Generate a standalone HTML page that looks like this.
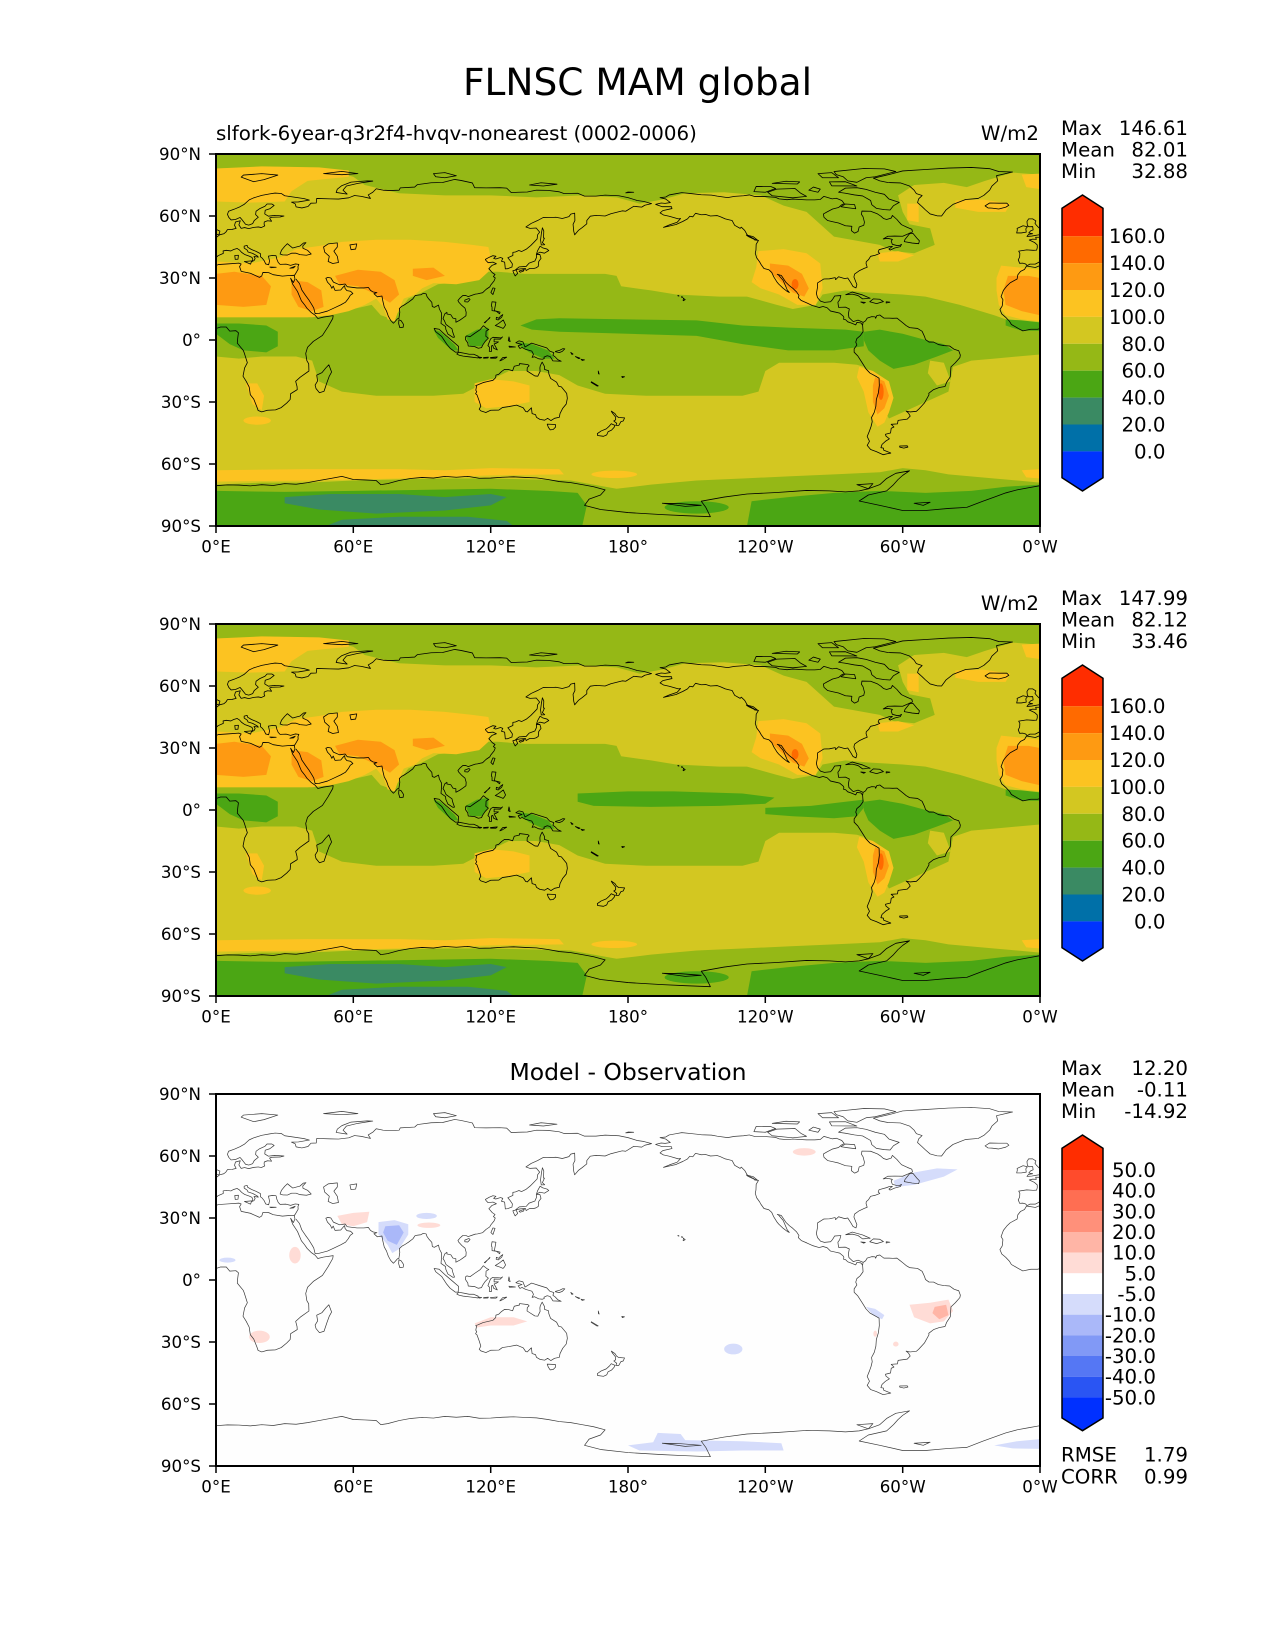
<!DOCTYPE html>
<html><head><meta charset="utf-8">
<style>
html,body{margin:0;padding:0;background:#fff}
svg{display:block}
text{font-family:"DejaVu Sans","Liberation Sans",sans-serif;fill:#000}
.cs{fill:none;vector-effect:non-scaling-stroke;stroke-linejoin:round}
</style></head>
<body>
<svg width="1275" height="1650" viewBox="0 0 1275 1650" xmlns="http://www.w3.org/2000/svg">
<defs>
<g id="coast">
<polygon class="cs" points="-5.9,35.8 -2,35.1 1,36.5 5,36.8 10,37.2 11,36.8 10.3,35.5 11,33.2 15,32.3 19,30.3 20,31 20.5,32.7 23,32.6 25,31.6 29,30.9 32,31.2 34.2,31.3 34.5,29.5 33.8,27.8 32.6,29.9 33.5,27 35.6,23.5 37.3,19 38.6,17.2 39.8,15.3 41.7,13.2 43.3,12 44.5,10.4 47,11.1 51.2,11.8 51,10.4 49,6.5 46.5,2.2 42.5,-0.7 40,-3.5 39.2,-6.5 39.7,-10 40.5,-11.5 40.6,-15 36.8,-18 34.8,-20 35.4,-22.5 35.5,-24 32.6,-26 32.4,-28.8 30.9,-30.5 28.5,-32.7 26,-33.8 22.5,-34 20,-34.8 18.4,-34.1 17.9,-32.5 16.5,-28.6 15,-26.5 14.5,-22.8 13.2,-20 11.8,-17.5 12.5,-13.5 13.7,-11 12.3,-6.1 11.9,-5 9.3,-1.5 9.5,1 9.8,3.5 8.7,4.5 6,4.3 4.5,6.3 2,6.3 -1,5.2 -4,5.2 -7.5,4.4 -9.5,5.6 -12.5,7.5 -13.3,9 -15,11 -16.7,12.6 -17.5,14.7 -16.5,16.5 -16.2,19.5 -17,21 -16,24 -14.5,26.1 -13,27.7 -10,29.5 -9.7,31.5 -8.5,33.2 -6.8,34.1"/>
<polygon class="cs" points="49.3,-12 50.5,-15.5 49.5,-17.5 48.5,-20.5 47.2,-24.8 45.2,-25.5 43.7,-23.5 43.3,-21.8 44.4,-19.8 44,-17 46.3,-15.8 48,-13.5"/>
<polyline class="cs" points="-5.6,36 -4.4,36.7 -2.1,36.7 -0.5,37.6 0.2,38.8 -0.3,39.5 0.9,40.8 3.2,41.9 3.1,43.1 4.5,43.4 6.5,43.1 7.7,43.8 9.2,44.3 10.3,43.5 11.2,42.4 12.5,41.4 14.5,40.6 15.7,40 16.1,38.9 15.7,38 16.6,38.4 17.1,39.4 16.6,40.4 18.5,40.1 18,40.7 16,41.9 14,42.6 13.6,43.5 12.3,44.5 12.3,45.4 13.6,45.8 13.8,44.9 15.5,43.8 17.5,42.9 19.4,41.8 19.4,40.3 20.2,39.6 21.1,38.3 21.7,36.8 23,36.4 23.4,38.2 22.9,40.6 24.5,40.9 26.2,40.8 26.4,40.1 26.6,39 27.2,37.5 28,36.6 30.6,36.7 32.6,36.1 34.6,36.8 36.2,36.6 35.8,35.5 35.9,34.3 35.3,33.1 34.5,31.6 34.2,31.3"/>
<polygon class="cs" points="28,41.6 28.6,43.4 30,45.3 31.2,46.6 32.5,45.4 33.5,44.5 35.5,45.1 36.6,45.4 38.2,46.9 39.3,47.1 37.9,45.5 38,44.4 40,43.4 41.6,41.6 39.5,41 36.7,41.3 35,42 33,42 31.2,41.1 29.1,41.2"/>
<polygon class="cs" points="47,45 49,46.5 53,47 53,45 51.5,43 53,40.5 53.5,37.5 51,37 49,38 49.5,40.5 47.5,42.5"/>
<polygon class="cs" points="58.5,46 61.5,46.5 61,44 59,43.7"/>
<polyline class="cs" points="34.9,29.5 36.5,27.3 37.5,24.2 39.1,21.6 40.5,19.5 41.8,17.2 42.7,15.5 43.3,12.8 45,12.9 48.7,14 52,15.7 54.5,17 56.6,18.3 57.8,20 58.7,21.7 59.8,22.5 58.8,23.6 57.2,23.9 56.4,24.9 56.2,26.3 55.5,25.5 54.5,24.2 52,24 51.5,25.3 51.2,26.1 50.6,25 50,26.5 48.7,28 48,29.9 48.9,30.3 50.2,30 51.3,28 54,26.7 56.4,27.1 57.3,25.8 61.6,25.2 64.5,25.2 66.6,25.4 67.5,24 68.5,23.3 70.3,22.9 69,22.4 70.5,20.9 72.5,21.3 72.8,19.3 73.5,16 74.5,14 75.3,11.5 76.3,9.5 77.5,8.1 78.2,8.9 79.3,10.3 79.9,10.4 80.3,13.4 80.1,15.2 81.3,16.4 82.3,17 84.1,18.3 86,19.9 87,21.5 88.2,21.7 89.5,21.9 90.6,22.6 91.8,22.3 92.2,21 93,19.8 94.3,18.2 94.5,16.2 95.4,15.8 97.2,16.9 97.6,15 98.5,13.1 98.5,10.5 98.3,8 100.3,6.5 100.4,5.2 101.3,2.9 103.5,1.3 104.2,1.4 103.4,3.9 103.1,5.4 102.1,6.2 100.5,7.5 99.8,9.3 99.2,10.4 99.6,11.6 100,12.7 100.9,13.4 100.9,12.6 102.6,12.2 103.5,10.6 104.8,10.3 104.8,8.6 106.4,9.5 107.7,10.5 109.2,11.7 109.3,13.4 108.8,15.4 107.4,16.7 106,18.4 105.7,19.1 106.6,20.3 107.8,21.5 109.2,21.5 110.2,21 111.7,21.6 113.3,22.2 114.2,22.3 116.5,22.9 118,24.5 119.6,25.7 120.1,26.7 121.5,28.6 122,30 121.2,30.7 121.9,31.7 120.7,32.6 119.2,34.5 120.6,36.1 122.5,36.9 121,37.7 118.9,37.4 118,38.4 117.7,39 119.3,40 121,40.8 122.3,40.5 121.3,39.5 122.2,39.2 124.3,39.9 125.3,39.5 124.7,38.1 126.1,37.7 126.4,34.4 127.4,34.5 129.3,35.3 129.5,36.8 128.4,38.6 127.5,39.8 129.7,40.9 129.7,42.4 130.8,42.6 132.3,43.3 133.5,42.8 135.5,43.9 137.5,45.7 139,47.4 140.3,48.9 140.5,50.9 141.4,52.2 139.9,54.2 137.2,54 135.4,54.7 137.7,56.4 140.5,57.8 143,59.3 146,59.2 148.5,59.4 151.3,58.8 154.2,59.7 155,60.9 156.7,61.4 156.8,57.8 156,56 156.3,52.6 156.7,50.9 158.3,53 160,54.4 162,56.2 162,57.8 163.5,59.9 166,60.3 170,60 172.5,61.1 177.5,62.5 179,62.3 182.5,64.7 186,64.3 187.3,65.2 190.3,66 187,67 184,67.5 180,68.9 176,69.8 170,70.1 166,69.6 161,69.6 158,71 152,70.9 150,71.7 145,72.4 140,72.5 136,71.6 132,71.5 129,71.3 127,73.5 124,73.7 118,73.6 113,73.7 112,76 107,77.2 104.3,77.7 99,76.2 94,76.1 88,75.2 86.8,74 80.5,73.6 80,72.5 76,72.3 73,72.5 70,73.2 68.5,71.5 66.5,70.2 67.5,68.5 63.5,69.5 60.5,69.9 58,68.8 53.5,68.2 50,68.3 44,68.5 43.8,66.3 41.5,66.2 40.2,64.6 37.5,63.9 35,64.4 34.6,65.9 33,66.7 36,66.8 40.8,67.7 38.5,68.4 33,69.3 30,69.8 28.5,70.9 25.8,71.1 23.5,70.7 20,70 16.5,68.8 14.5,67.8 12.4,65.7 10.5,64.5 8,63.3 5.5,62.3 5,60.8 5.6,59.3 6.6,58.1 8.5,58.3 10.5,59.3 11.3,58.3 12,57.3 12.9,56 14.3,55.6 16,56.3 16.7,57.8 18.5,59.4 17.3,60.7 17.5,62.3 19,63.5 21.4,64.7 22.3,65.8 24.4,65.8 25.4,65.1 23.5,63.5 21.5,62.8 21.3,61 22.9,59.9 25.5,60.3 29.7,60 28,59.5 24.3,59.4 23.4,59 24.3,57.5 22.5,57.7 21.1,57.1 21,56.1 21.3,55.2 19.8,54.4 18.5,54.7 16.5,54.5 14.3,53.9 12.5,54.4 11,54 10,55.7 10.6,57.7 8.5,57.1 8.1,55.5 8.8,54 7,53.5 5,53.4 4.3,52.2 3.4,51.4 1.6,50.9 0.2,49.7 -1.9,49.7 -1.6,48.7 -3.2,48.8 -4.7,48.4 -2.4,47.2 -1.2,46 -1.2,44.6 -1.5,43.5 -3,43.4 -5.8,43.6 -9.3,43 -8.8,41.9 -8.9,40.1 -9.5,38.8 -8.9,37.1 -7.5,37.2 -6.3,36.8 -5.6,36"/>
<polygon class="cs" points="-5.7,50.1 -3.6,50.3 -1,50.8 1.4,51.2 1.7,52.7 0.3,53.4 -1.6,55.6 -2.2,56.5 -1.8,57.6 -3.2,58.6 -5,58.6 -5.7,57.3 -5.5,55.4 -4.8,54.8 -3.2,54.9 -3,53.3 -4.1,52.8 -4.9,51.8 -3.2,51.4 -5,51.1"/>
<polygon class="cs" points="-6,52.2 -6.2,53.8 -5.5,54.8 -7.4,55.3 -10,54 -9.9,53.2 -10.2,51.8 -8.2,51.8"/>
<polygon class="cs" points="-24,64.9 -22,66.3 -18,66.2 -14.5,66.2 -13.6,65.2 -14.9,64.3 -18,63.4 -21,63.8 -22.7,63.9"/>
<polygon class="cs" points="11,78.8 16.5,76.6 21,77.6 27,79.8 20,80.5 12,79.8"/>
<polygon class="cs" points="52.5,71.4 57.3,70.6 55.5,72.5 57,74.5 62,75.8 68.5,76.9 66,77 59,76.4 55,74.7 53,73"/>
<polygon class="cs" points="47,80.5 55,80 62,80.5 55,81.6"/>
<polygon class="cs" points="96,79 100,78.5 105,79.5 100,81 95,80.5"/>
<polygon class="cs" points="137,75 143,74.5 149,75.4 142,76.1"/>
<polygon class="cs" points="179,71.2 182.5,71.5 180,71.6"/>
<polygon class="cs" points="8.4,39 9.6,39.1 9.8,41 8.2,40.9"/>
<polygon class="cs" points="12.4,38 15.6,38.3 15.1,36.7"/>
<polygon class="cs" points="23.5,35.3 26.3,35.2 24,35"/>
<polygon class="cs" points="32.3,34.7 34.6,35.7 33.9,34.9"/>
<polygon class="cs" points="79.9,9.8 80.9,9.3 81.9,7.6 81.8,6.2 80.3,6 79.8,7.9"/>
<polygon class="cs" points="120.1,23 121,25.2 121.9,25 121,22"/>
<polygon class="cs" points="108.7,19.3 110.5,20.1 111,19.6 110,18.4 108.7,18.5"/>
<polygon class="cs" points="130.9,34 132.5,35.4 135.5,35.6 136.8,37.2 139.3,38.2 140,39.9 140,41.3 141.5,41.4 142,39.5 141,38 140.9,36.9 140.8,35.6 139.8,34.9 138.8,34.6 137,34.6 135.5,33.6 135.2,34.6 133,34.4"/>
<polygon class="cs" points="129.7,33.5 131.1,33.9 131.8,32.2 130.7,31 130.1,32.3"/>
<polygon class="cs" points="132.4,33.3 134.7,34.2 134.3,33.3 132.9,32.8"/>
<polygon class="cs" points="140.2,42.2 140.5,43.2 141.6,45.4 142.7,44.6 144.6,44 145.4,43.3 143.5,42 141.5,42.5 140,41.5"/>
<polygon class="cs" points="142.1,46 141.8,48.5 142.2,51.9 142.6,54.3 143.2,52.8 143.1,49.3 143.5,49.3 142.6,47.1 143.6,46.1"/>
<polygon class="cs" points="120.6,18.5 122.3,18.3 122,16.5 121.6,14.2 124.1,13.5 123.9,12.7 122.5,13.9 120.6,14.2 120.6,16 120.3,16.5"/>
<polygon class="cs" points="122,7 123.5,8 125.5,9.7 126.5,7.3 126,6.3 125.4,5.6 124.2,6.2"/>
<polygon class="cs" points="122.5,11 123.5,10.5 124.3,11.5 125.3,12.3 124.8,11 123.3,9.7 122.4,10"/>
<polygon class="cs" points="117.2,8.4 119.5,10.5 119.7,11 117.5,8.3"/>
<polygon class="cs" points="95.3,5.6 97.5,5.2 100.4,2.2 103.8,-1 106,-3.1 105.8,-5.8 104.6,-5.9 102.3,-4 100.8,-2 98.6,1.7 96,4"/>
<polygon class="cs" points="105.2,-6.8 106,-5.9 108.5,-6.4 110.6,-6.9 112.6,-6.9 114.5,-7.8 114.6,-8.7 111,-8.2 108,-7.8 106.3,-7.4"/>
<polygon class="cs" points="109,1.5 109.6,2 111,1.6 113,3.2 115.4,5 116.8,6.9 118.5,5.4 119.2,5.1 118,4.3 117.9,1.8 119,0.9 117.6,-0.7 116.5,-2.5 116,-3.7 114.6,-4 113,-3.2 110.2,-2.9 110,-1.4 109,0.2"/>
<polygon class="cs" points="119.4,-5.5 119.5,-3.5 118.8,-2.7 119.8,0.1 120.1,0.7 121,1.3 124.5,1 125.2,1.5 124.2,0.4 121.5,0.5 121.5,-0.9 123.4,-0.9 122.4,-1.6 121.5,-1.9 122.9,-4.8 121.3,-4 120.9,-2.6 120.3,-2.9 120.4,-5.5"/>
<polygon class="cs" points="131,-1.3 132.4,-0.4 134.1,-0.9 135,-3.4 137.9,-1.5 141,-2.6 144.5,-3.8 145.8,-5.4 147.6,-6.1 147.2,-7.4 148.1,-8.1 149.3,-9.5 150.8,-10.3 147.2,-10.1 146,-8 144.7,-7.6 143.3,-8.3 143.4,-9 142.6,-9.3 141,-9.1 139.1,-8.1 138.1,-8.4 138.7,-6.9 138,-5.4 135.2,-4.5 133.7,-3.6 132.8,-4.1 132,-2.8 133.7,-2.2 131.8,-1.6"/>
<polygon class="cs" points="124,-10.1 125.3,-8.5 127,-8.3 125.1,-9.6"/>
<polygon class="cs" points="114.6,-8.2 116.1,-8.5 115.2,-8.8"/>
<polygon class="cs" points="116.9,-8.5 119,-8.3 118.8,-8.7 116.9,-8.8"/>
<polygon class="cs" points="119.9,-8.5 122.9,-8.2 122.3,-8.8 120,-8.8"/>
<polygon class="cs" points="128,1.5 128.5,-0.8 127.7,-0.3"/>
<polygon class="cs" points="128,-3 130.8,-3.4 128.2,-3.5"/>
<polygon class="cs" points="148.3,-5.5 150.1,-5 151.5,-4.2 152.4,-4.3 151.3,-5.5 150,-6.1 148.3,-5.7"/>
<polygon class="cs" points="155,-6 156,-6.8 155.5,-7"/>
<polygon class="cs" points="157,-8 159,-8.8 158.5,-9"/>
<polygon class="cs" points="159.5,-9.3 161,-9.6 160,-9.9"/>
<polygon class="cs" points="164,-20.2 167,-22.2 166.5,-22.3 163.9,-20.5"/>
<polygon class="cs" points="167,-15 167.4,-16.5 167.1,-16.3"/>
<polygon class="cs" points="177.3,-17.6 178.5,-17.8 177.5,-18.2"/>
<polygon class="cs" points="113.5,-22 114.2,-21.8 116.7,-20.6 121,-19.5 122.2,-18.2 122.3,-17 123.5,-16.6 124.8,-15.2 126.1,-14.2 127.8,-14.3 129.6,-14.9 130.3,-12.7 132.6,-12.1 132.6,-11.4 136.3,-11.9 136.8,-12.5 136,-13.3 135.9,-15 137.2,-15.9 139.3,-17.4 140.6,-17.5 141.6,-15.2 141.5,-13.5 141.7,-12.4 142.5,-10.7 143.5,-12.8 143.5,-14.2 145.3,-14.9 145.4,-16.3 146.2,-18.6 148.8,-20.4 149.7,-22.4 150.9,-22.7 153.2,-25.8 153.5,-28.2 153,-31 151.5,-33 150.3,-35.6 150,-37.4 147.9,-37.9 146.3,-39 144.9,-37.9 143.6,-38.8 141.5,-38.4 140,-37.4 139.6,-36.1 138.1,-35.6 137.8,-32.8 136,-34.8 135.3,-34.6 134.2,-32.8 131.3,-31.5 128,-32.2 125.1,-32.7 123.6,-33.9 120,-34 117.9,-35.1 115.7,-34.3 115,-33.5 115.7,-32 115,-29.5 114,-26.5 113.4,-26 113.9,-25 113.5,-24.3 113.8,-22.5"/>
<polygon class="cs" points="144.7,-40.7 148.3,-40.9 148.3,-42.2 147.3,-43.3 146,-43.5 145.2,-42.2"/>
<polygon class="cs" points="172.7,-34.4 174.3,-35.6 175,-36.8 175.9,-37.5 178.5,-37.7 177.9,-39.2 176.9,-39.5 176,-41.3 174.7,-41.3 175.1,-40.3 173.8,-39.2 174.6,-38.6 174.6,-37.3 173.1,-35.2"/>
<polygon class="cs" points="172.7,-40.5 174.3,-41.3 173.9,-42.3 172.8,-43.6 171.3,-44.4 170.7,-45.9 169.3,-46.6 166.7,-46.2 166.6,-45.3 168.3,-44 170.5,-43 171.8,-41.7"/>
<polyline class="cs" points="-168,65.6 -165,64.5 -161,64.5 -160.8,63.6 -164.8,62.6 -166,61.5 -164.5,60.5 -162,59.9 -158,58.6 -157,58.8 -158.5,57 -161.9,55.7 -164.5,54.5 -162.5,55 -159,55.9 -156,57.4 -154,58.6 -153,59.9 -151.7,59.6 -150.5,61.3 -148,60.6 -146,60.7 -144,60 -141,60.2 -139.5,59.6 -137.5,58.6 -136,58.2 -134.5,57.8 -133.4,55.5 -131,54 -130.5,54.6 -129,53 -128,51 -127.5,50.5 -125,49 -124.7,48.4 -123,48.2 -124,46.3 -124.1,43.5 -124.4,42 -123.8,39.8 -122.5,37.8 -121.9,36.6 -120.6,34.6 -118.5,34 -117.2,32.7 -116.3,30.5 -115,28.2 -114.2,27.1 -112.2,25 -110.3,23.4 -109.5,23 -110.4,24.2 -112.2,28.8 -114.3,31.5 -114.8,31.8 -113,31.2 -111,27.9 -109.4,26.2 -108,25 -106.3,23.2 -105.3,21.5 -105.6,20.5 -104.3,19.1 -101.8,17.9 -99.5,16.7 -96.5,15.7 -94.8,16.2 -93,15.6 -91.5,14 -89,13.4 -87.5,13 -86,11.6 -85.7,11 -85.8,10 -84.9,9.8 -84,8.8 -82.5,8.2 -80.5,7.3 -80,8.5 -78.3,8.3 -77.5,7.2"/>
<polyline class="cs" points="-77.4,8.6 -79.5,9.6 -81.6,8.9 -83.5,10.9 -83.7,12.8 -83.3,15 -85,15.9 -88,15.8 -88.3,18.3 -87.5,19.5 -87,21.5 -89.7,21.3 -90.7,19.5 -91.5,18.5 -94.2,18.2 -95.9,18.8 -97.2,20.5 -97.7,22.5 -97.2,25.5 -97.2,27.6 -94.5,29.5 -92,29.6 -89.5,30.2 -89.3,29.2 -88,30.6 -85.3,29.7 -84,30 -82.7,27.8 -81.7,25.9 -80.4,25.2 -80,26.8 -80.6,28.5 -81.3,30.5 -81,31.9 -79,33.5 -76.7,34.7 -75.5,35.2 -76,37 -75.9,37.9 -74.9,38.9 -74,40.5 -72,41 -70.6,41.6 -70,41.9 -70.7,42.6 -70.3,43.7 -67,44.7 -65.9,45.2 -64.5,45.3 -66,44 -65.5,43.5 -63.5,44.5 -61,45.2 -60.5,46.3 -61.5,45.7 -62.5,45.7 -64.5,46.3 -65,47.8 -64.5,48.7 -66.5,49.2 -68.5,48.9 -66.5,50.2 -63.5,50.3 -60,50.2 -57.5,51.4 -55.7,52.3 -56,53.6 -58,54.5 -60.5,55.8 -61.5,57 -62.5,58.3 -64.5,60.3 -65,59 -67,58.3 -68.4,58.8 -69.5,59.9 -71,61 -74,62.3 -77.8,62.4 -78,60.8 -77.3,59.6 -76.7,57 -77,55.5 -79,54.7 -79.5,52.5 -81,51.7 -82.4,52.9 -82.2,55 -85,55.3 -88,56.6 -90.8,57.3 -92.8,57.8 -94.4,59.4 -94.6,61 -93,62 -90.6,63.4 -88,64.1 -86.8,65.3 -85.5,66 -86.6,67.5 -89,68.6 -90.8,68.3 -94.4,69.5 -96,68 -98.5,67.8 -102,67.8 -108,68.2 -110.5,67.9 -114,68.3 -115.5,69 -120,69.4 -124.5,69.4 -127,70.2 -129.5,69.8 -133.5,69.5 -136.5,68.9 -141,69.6 -143.5,70.1 -148,70.3 -152,70.8 -156.5,71.3 -159,70.8 -162,70.2 -163.5,69.2 -166,68.9 -163.5,68.2 -161.5,66.5 -163.8,66.1 -165.5,66.3 -168,65.6"/>
<polygon class="cs" points="-77.5,7.2 -77.3,4 -78.6,2 -80,0.7 -80.5,-1 -80,-2.4 -81.2,-4.3 -81.2,-5.9 -79.6,-7.7 -77.7,-11 -76,-14 -74.3,-16 -71.3,-17.8 -70.3,-18.5 -70.2,-22 -70.6,-25.5 -71.5,-28.8 -71.7,-32 -72.4,-35 -73.6,-37.5 -73.3,-39.5 -73.8,-41.8 -74.5,-44 -75.5,-46.7 -74.5,-49 -75.5,-51 -74,-53 -71.5,-54 -68.5,-55.5 -66.5,-55 -65.2,-54.7 -68.3,-53.3 -68.4,-52.3 -69.5,-52.1 -69,-50.5 -67.5,-49 -65.8,-47.8 -67.3,-46.5 -67.5,-45.6 -65.3,-45 -65,-42.7 -63.8,-42.1 -65,-40.8 -62.3,-40.6 -62,-38.9 -58,-38.3 -56.7,-36.8 -57.5,-35.3 -58.5,-34.4 -56.8,-34.8 -54,-34.5 -53,-33.5 -50.5,-30.5 -48.5,-26.5 -48.6,-25.8 -46.5,-24 -44,-23 -41.5,-22.5 -40.8,-20.5 -39.2,-17.8 -39,-14.5 -38.9,-13 -37,-11 -35,-8.5 -34.8,-7.3 -35.5,-5.2 -37.5,-4.5 -39.5,-2.9 -42,-2.7 -44.4,-2.2 -46.5,-1 -48.5,-1 -50,0.2 -50.5,1.8 -51.5,4.2 -53.5,5.6 -57,6 -58.5,7 -60,8.4 -61.5,9.7 -62.5,10.6 -64.3,10.5 -66,10.6 -68.2,10.6 -70,12.1 -71.3,11.8 -71.8,10.5 -72,11.2 -73.5,11.3 -75.5,10.6 -76.2,9.3 -77.3,8.5"/>
<polygon class="cs" points="-72.8,78.3 -65,80.3 -60,81.8 -50,82.5 -40,83.2 -30,83.5 -22,82.9 -18,81.5 -12,81.3 -19,79.5 -18.5,77 -21,74.5 -22,72.5 -24.5,70 -27,68.5 -32.5,68 -38,65.6 -41,63 -43,60 -45,60.1 -48,61 -50,62.9 -51.5,64.5 -53.5,66.5 -53,68.3 -51.5,69.9 -54,70.8 -55,72.5 -57,74.5 -61,76 -66.5,76.2 -70,77"/>
<polygon class="cs" points="-61.5,66.6 -64,65 -65.5,62.9 -68,63.1 -71.5,63.7 -73.5,65.5 -74,67.5 -77.5,69.7 -81,70.2 -85,71 -88,71.5 -85,73.5 -80,73.7 -76,72.9 -72,71.5 -68,70.5 -66,68.2"/>
<polygon class="cs" points="-102,69.5 -108,68.8 -117,69.8 -119,71.5 -115,73 -107,73.3 -104.5,71"/>
<polygon class="cs" points="-120,71.5 -125,71.8 -124,74.3 -117.5,74.2 -115.5,73.3"/>
<polygon class="cs" points="-80,76.3 -76,78.5 -72,79 -63,81.5 -68,82.8 -77,83 -90,81.5 -89,80 -86,79 -84,77"/>
<polygon class="cs" points="-80,74.5 -91,74.6 -92,76.5 -85,76.6"/>
<polygon class="cs" points="-106,75.5 -117,75.8 -111,76.8 -105,76.5"/>
<polygon class="cs" points="-97,71.5 -101,72.5 -99,74 -96,73"/>
<polygon class="cs" points="-88,78.5 -95,78.5 -97,80.5 -91,81"/>
<polygon class="cs" points="-84,64 -80.5,63.5 -81,65.5 -85,65.8 -87,64.5"/>
<polygon class="cs" points="-59.3,47.6 -55.8,46.9 -53,46.6 -52.7,48 -53.8,49.3 -55.5,51.6 -57,51.4 -59,48.6"/>
<polygon class="cs" points="-84.9,21.9 -82,23.2 -77.5,21.8 -74.2,20.2 -77.5,19.9 -79.5,21.5 -82,22.2"/>
<polygon class="cs" points="-74.4,18.5 -72.8,19.9 -70,19.7 -68.4,18.6 -71.4,17.6"/>
<polygon class="cs" points="-78.3,18.4 -76.3,18.2 -77,17.8"/>
<polygon class="cs" points="-67.2,18.5 -65.6,18.3 -67.2,17.9"/>
<polygon class="cs" points="-128.3,50.8 -125.3,50 -123.5,48.4 -124.8,48.7 -127.5,50.1"/>
<polygon class="cs" points="-155.8,20.2 -155,19.5 -155.9,19"/>
<polygon class="cs" points="-156.6,21 -156,20.7 -156.5,20.6"/>
<polygon class="cs" points="-158.2,21.6 -157.7,21.3 -158.1,21.3"/>
<polygon class="cs" points="-61.3,-51.3 -58,-51.2 -57.7,-51.8 -59.5,-52.3 -61.3,-51.8"/>
<polyline class="cs" points="0,-70.5 5,-70.1 10,-70.2 15,-70.6 20,-70 25,-70.4 30,-69.5 35,-69.8 40,-69 45,-68 50,-67 55,-66 60,-67.5 65,-67.7 70,-68 72,-70 75,-69.5 80,-68 85,-67 90,-66.5 95,-66.8 100,-66 105,-66.4 110,-66 115,-66.9 120,-66.8 125,-66.4 130,-66.2 135,-66.5 140,-66.7 145,-67.5 150,-68.5 155,-69 160,-70 165,-71 170,-72.5 168,-75 163,-77 161,-80 168,-82 180,-83.5 195,-84.5 205,-85 216,-85.5 214,-81 212,-78 222,-76 232,-74.5 245,-73.8 258,-72.8 268,-73 275,-73.5 281,-73 285,-72 290,-70 293,-67 297,-64.5 303,-63.3 300,-65.5 298,-67.5 296,-70 293,-73 285,-75 281,-77.9 290,-80 300,-82.5 310,-82.5 320,-81.5 328,-81 335,-78 340,-76 345,-74 350,-72.5 355,-71.5 360,-70.5"/>
<polygon class="cs" points="195,-79 205,-80.5 212,-80 203,-79.2"/>
<polygon class="cs" points="280,-70 287,-69.5 285,-72"/>
<polygon class="cs" points="305,-79 312,-78.5 309,-80"/>
</g>

<g id="fieldA">
<rect x="0" y="-90" width="360" height="180" fill="#D3C721"/>
<polygon fill="#95B816" points="0,90 360,90 360,80 348,81 336,77 328,74 318,76 305,75 298,70 300,62 303,56 312,54 314,46 305,42 296,43 290,46 280,48 270,50 264,56 258,62 248,65 238,70 222,71.5 205,71 195,68 185,66 175,69 160,70 140,69 120,70 100,70 80,71 65,75 60,79 50,82 30,83.5 0,83"/>
<polygon fill="#95B816" points="0,11 40,11 50,13 60,15 68,17 72,12 77,10 80,14 84,20 90,23 97,27 105,28 112,30 118,33 123,33 135,32 150,32 170,32 175,31 177,26 190,24 201,22 220,21 232,21 245,17 252,15 262,17 265,22 275,24 285,23 300,22 310,21 325,17 340,12 350,8 360,7 360,-7 350,-8 340,-9 330,-10 322,-13 320,-25 310,-30 300,-35 294,-38 290,-30 286,-20 283,-13 280,-12 270,-11 246,-11 240,-15 237,-25 230,-27 210,-27 188,-27 170,-26 158,-22 150,-17 140,-15 128,-15 115,-22 108,-26 95,-27 70,-27 55,-25 45,-20 42,-10 35,-8 20,-8 10,-9 0,-8"/>
<polygon fill="#D3C721" points="312,-10 318,-11 321,-20 315,-22 311,-16"/>
<polygon fill="#95B816" points="0,-70 20,-69 40,-69 60,-68 80,-67.5 100,-67 120,-67 140,-67.5 155,-68 165,-70 175,-72 190,-70 210,-68 230,-67 250,-66 270,-65 290,-64 300,-62 310,-63 320,-65 340,-67 360,-69 360,-90 0,-90"/>
<polygon fill="#4BA614" points="0,-73 30,-73.5 60,-73 90,-72.5 120,-72 145,-73 158,-74 162,-80 160,-90 0,-90"/>
<polygon fill="#4BA614" points="232,-90 234,-78 250,-76 270,-74 290,-73 310,-74 330,-73 345,-71 360,-70 360,-90"/>
<ellipse fill="#4BA614" cx="210" cy="-81" rx="14" ry="3"/>
<polygon fill="#3A8A63" points="30,-76 50,-74.5 80,-74.5 100,-76 120,-74.5 127,-76 120,-80 100,-82.5 70,-84 45,-82 30,-79"/>
<polygon fill="#3A8A63" points="48,-90 55,-87 80,-85.5 110,-85.5 127,-87.5 130,-90"/>
<polygon fill="#FCC321" points="0,-63 40,-62.5 80,-62.5 100,-63 120,-62 150,-62.5 152,-65 120,-65.5 80,-67 40,-68 0,-68.5"/>
<ellipse fill="#FCC321" cx="174" cy="-65" rx="10" ry="1.8"/>
<polygon fill="#FCC321" points="352,-63 360,-62.5 360,-67 354,-66.5"/>
<polygon fill="#FCC321" points="0,83 20,84 45,83.5 58,82 58,79 40,77 33,72 30,67 15,66.5 0,67"/>
<polygon fill="#FCC321" points="323,67.5 335,68 347,66 345,62 333,62 323,64"/>
<polygon fill="#FCC321" points="352,80 360,80.5 360,73 354,74"/>
<polygon fill="#FCC321" points="302,66 307,66 307,57 302,58"/>
<polygon fill="#FCC321" points="0,38 15,37 28,40 35,44 45,45.5 55,47.5 70,48.5 85,48.5 100,47.5 112,46 119,45 120,40 119,33 115,29 105,27 95,27.5 90,25 87,22 82,20 80,15 78,9 75,10 73,16 70,20 65,17 58,14 50,12 42,11 30,11 15,11 0,11"/>
<polygon fill="#FE9A12" points="0,32 8,33 20,31 24,26 22,17 12,16 0,17"/>
<polygon fill="#FE9A12" points="33,29 40,28 46,24 47,16 42,14 36,16 33,22"/>
<polygon fill="#FE9A12" points="52,31 62,34 72,33 78,29 80,22 76,18 70,22 62,26 54,27"/>
<polygon fill="#FE9A12" points="86,34.5 95,35 100,31 92,29 86,31"/>
<polygon fill="#FCC321" points="237,43 248,44 258,42 264,37 265,25 262,17 254,17 246,22 238,25 234,28 236,35"/>
<polygon fill="#FE9A12" points="242,37 250,36 256,32 259,25 257,21 252,23 246,29 242,33"/>
<ellipse fill="#FF6A00" cx="253" cy="27" rx="1.5" ry="2.5"/>
<polygon fill="#FCC321" points="281,-13 287,-15 294,-20 296,-28 294,-35 292,-40 289,-42 285,-35 283,-25 280,-18"/>
<polygon fill="#FE9A12" points="288,-18 292,-20 294,-27 292,-33 289,-36 287,-30 287,-22"/>
<ellipse fill="#FF6A00" cx="290.5" cy="-25" rx="1.2" ry="4"/>
<polygon fill="#FCC321" points="343,36 352,35 360,34 360,9 352,10 345,12 342,17 341,24 341,30"/>
<polygon fill="#FE9A12" points="346,31 355,31 360,30 360,12 352,14 345,17 344,24"/>
<polygon fill="#4BA614" points="345,10 352,9.5 360,8.5 360,4.5 352,4.5 345,7"/>
<polygon fill="#FCC321" points="113,-21 120,-19 130,-20 137,-22 137,-30 128,-32 118,-33 113,-30"/>
<polygon fill="#FCC321" points="13,-21 18,-21 21,-27 20,-34 16,-31"/>
<ellipse fill="#FCC321" cx="18" cy="-39" rx="6" ry="2"/>
<polygon fill="#FCC321" points="289,42 298,43 305,41 298,38 290,38"/>
<polygon fill="#4BA614" points="0,8 10,8 22,7 27,4 27,-3 22,-6 12,-5 6,-2 0,3"/>
<polygon fill="#4BA614" points="95,5 98,4 104,-2 106,-5 103,-5 97,1"/>
<polygon fill="#4BA614" points="109,2 114,5 119,6 119,1 116,-3 111,-3"/>
<polygon fill="#4BA614" points="132,-1 138,-2 145,-5 148,-9 143,-9 137,-6 133,-3"/>
<polygon fill="#4BA614" points="283,4 290,5 300,3 310,0 318,-2 322,-5 315,-8 305,-12 296,-14 290,-10 285,-5 283,0"/>
</g>
</defs>

<!-- Title -->
<text x="637.5" y="95" font-size="37.5" text-anchor="middle">FLNSC MAM global</text>

<!-- ============ PANEL 1 ============ -->
<text x="216" y="140" font-size="19.8">slfork-6year-q3r2f4-hvqv-nonearest (0002-0006)</text>
<text x="1039" y="140" font-size="19.8" text-anchor="end">W/m2</text>
<text x="1061" y="135" font-size="19.8">Max</text><text x="1188" y="135" font-size="19.8" text-anchor="end">146.61</text>
<text x="1061" y="156.5" font-size="19.8">Mean</text><text x="1188" y="156.5" font-size="19.8" text-anchor="end">82.01</text>
<text x="1061" y="178" font-size="19.8">Min</text><text x="1188" y="178" font-size="19.8" text-anchor="end">32.88</text>

<svg x="216" y="154" width="824" height="372" viewBox="0 -90 360 180" preserveAspectRatio="none">
<g transform="scale(1,-1)">
<use href="#fieldA"/>
<polygon fill="#4BA614" points="133,7 140,10 150,10.5 180,10 210,9.5 230,7 250,6 275,5 283,4 283,-3 270,-5 250,-5 230,-2 210,2 180,3 150,4 138,5"/>
<use href="#coast" stroke="#000" stroke-width="0.8"/>
<use href="#coast" transform="translate(360,0)" stroke="#000" stroke-width="0.8"/>
</g>
</svg>
<rect x="216" y="154" width="824" height="372" fill="none" stroke="#000" stroke-width="2"/>

<!-- ============ PANEL 2 ============ -->
<text x="1039" y="610" font-size="19.8" text-anchor="end">W/m2</text>
<text x="1061" y="605" font-size="19.8">Max</text><text x="1188" y="605" font-size="19.8" text-anchor="end">147.99</text>
<text x="1061" y="626.5" font-size="19.8">Mean</text><text x="1188" y="626.5" font-size="19.8" text-anchor="end">82.12</text>
<text x="1061" y="648" font-size="19.8">Min</text><text x="1188" y="648" font-size="19.8" text-anchor="end">33.46</text>

<svg x="216" y="624" width="824" height="372" viewBox="0 -90 360 180" preserveAspectRatio="none">
<g transform="scale(1,-1)">
<use href="#fieldA"/>
<polygon fill="#4BA614" points="158,8 180,9 200,9 230,8 244,6 240,3 220,2 190,1.5 165,2 158,4"/>
<polygon fill="#4BA614" points="240,1 260,2 275,4 283,5 283,1 280,-3 270,-4 252,-3 240,-2"/>
<use href="#coast" stroke="#000" stroke-width="0.8"/>
<use href="#coast" transform="translate(360,0)" stroke="#000" stroke-width="0.8"/>
</g>
</svg>
<rect x="216" y="624" width="824" height="372" fill="none" stroke="#000" stroke-width="2"/>

<!-- ============ PANEL 3 ============ -->
<text x="628" y="1080" font-size="23.5" text-anchor="middle">Model - Observation</text>
<text x="1061" y="1075" font-size="19.8">Max</text><text x="1188" y="1075" font-size="19.8" text-anchor="end">12.20</text>
<text x="1061" y="1096.5" font-size="19.8">Mean</text><text x="1188" y="1096.5" font-size="19.8" text-anchor="end">-0.11</text>
<text x="1061" y="1118" font-size="19.8">Min</text><text x="1188" y="1118" font-size="19.8" text-anchor="end">-14.92</text>
<text x="1061" y="1461.7" font-size="19.8">RMSE</text><text x="1188" y="1461.7" font-size="19.8" text-anchor="end">1.79</text>
<text x="1061" y="1483.3" font-size="19.8">CORR</text><text x="1188" y="1483.3" font-size="19.8" text-anchor="end">0.99</text>

<svg x="216" y="1094" width="824" height="372" viewBox="0 -90 360 180" preserveAspectRatio="none">
<g transform="scale(1,-1)">
<rect x="0" y="-90" width="360" height="180" fill="#FEFEFE"/>
<polygon fill="#D5DCFB" points="71,28 78,29 84,27 84,22 80,15 77,13 75,17 71,22"/>
<polygon fill="#AAB8F9" points="74,26 80,26.5 82,23 79,17 75,19 73,23"/>
<ellipse fill="#D5DCFB" cx="92" cy="31" rx="4.5" ry="1.5"/>
<ellipse fill="#FFDCD6" cx="93" cy="26.5" rx="5" ry="1.3"/>
<ellipse fill="#D5DCFB" cx="5" cy="9.6" rx="3.5" ry="1.2"/>
<polygon fill="#FFDCD6" points="53,31 60,32.5 67,33 66,28 60,26 55,27"/>
<ellipse fill="#FFDCD6" cx="34.5" cy="12" rx="2.5" ry="4"/>
<ellipse fill="#FFDCD6" cx="19" cy="-27.5" rx="4.5" ry="3"/>
<polygon fill="#FFDCD6" points="113,-21 120,-18 130,-18 136,-20 130,-22 120,-22 114,-23"/>
<ellipse fill="#FFDCD6" cx="257" cy="62" rx="5" ry="1.8"/>
<polygon fill="#D5DCFB" points="296,48 305,52 315,54 324,53.5 318,50 305,46 297,45"/>
<ellipse fill="#D5DCFB" cx="226" cy="-33.4" rx="4" ry="2.6"/>
<polygon fill="#FFDCD6" points="303,-12 312,-11 320,-9.5 322,-15 318,-20 312,-21 305,-18"/>
<polygon fill="#FFB5A6" points="314,-13 319,-12 320,-17 316,-19 313,-16"/>
<polygon fill="#D5DCFB" points="284,-13 288,-14 292,-17 291,-19 287,-17"/>
<ellipse fill="#FFDCD6" cx="288" cy="-26" rx="0.8" ry="1.5"/>
<ellipse fill="#FFDCD6" cx="297" cy="-31" rx="1.2" ry="1.2"/>
<polygon fill="#D5DCFB" points="180,-80 191,-78.5 193,-74 203,-74.5 205,-77.5 230,-78 247,-79 248,-82.5 230,-82.5 210,-83 185,-82.5"/>
<polygon fill="#D5DCFB" points="340,-80 350,-78 360,-77 360,-81.7 348,-81.5"/>
<use href="#coast" stroke="#3a3a3a" stroke-width="0.7"/>
<use href="#coast" transform="translate(360,0)" stroke="#3a3a3a" stroke-width="0.7"/>
</g>
</svg>
<rect x="216" y="1094" width="824" height="372" fill="none" stroke="#000" stroke-width="2"/>

<!-- ===== Axis ticks and labels (all panels) ===== -->
<g stroke="#000" stroke-width="1.5">
<path d="M209,154H216M209,216H216M209,278H216M209,340H216M209,402H216M209,464H216M209,526H216"/>
<path d="M216,526V533M353.3,526V533M490.7,526V533M628,526V533M765.3,526V533M902.7,526V533M1040,526V533"/>
<path d="M209,624H216M209,686H216M209,748H216M209,810H216M209,872H216M209,934H216M209,996H216"/>
<path d="M216,996V1003M353.3,996V1003M490.7,996V1003M628,996V1003M765.3,996V1003M902.7,996V1003M1040,996V1003"/>
<path d="M209,1094H216M209,1156H216M209,1218H216M209,1280H216M209,1342H216M209,1404H216M209,1466H216"/>
<path d="M216,1466V1473M353.3,1466V1473M490.7,1466V1473M628,1466V1473M765.3,1466V1473M902.7,1466V1473M1040,1466V1473"/>
</g>
<g font-size="16.67" text-anchor="end">
<text x="201" y="160">90°N</text><text x="201" y="222">60°N</text><text x="201" y="284">30°N</text><text x="201" y="346">0°</text><text x="201" y="408">30°S</text><text x="201" y="470">60°S</text><text x="201" y="532">90°S</text>
<text x="201" y="630">90°N</text><text x="201" y="692">60°N</text><text x="201" y="754">30°N</text><text x="201" y="816">0°</text><text x="201" y="878">30°S</text><text x="201" y="940">60°S</text><text x="201" y="1002">90°S</text>
<text x="201" y="1100">90°N</text><text x="201" y="1162">60°N</text><text x="201" y="1224">30°N</text><text x="201" y="1286">0°</text><text x="201" y="1348">30°S</text><text x="201" y="1410">60°S</text><text x="201" y="1472">90°S</text>
</g>
<g font-size="16.67" text-anchor="middle">
<text x="216" y="552.5">0°E</text><text x="353.3" y="552.5">60°E</text><text x="490.7" y="552.5">120°E</text><text x="628" y="552.5">180°</text><text x="765.3" y="552.5">120°W</text><text x="902.7" y="552.5">60°W</text><text x="1040" y="552.5">0°W</text>
<text x="216" y="1022.5">0°E</text><text x="353.3" y="1022.5">60°E</text><text x="490.7" y="1022.5">120°E</text><text x="628" y="1022.5">180°</text><text x="765.3" y="1022.5">120°W</text><text x="902.7" y="1022.5">60°W</text><text x="1040" y="1022.5">0°W</text>
<text x="216" y="1492.5">0°E</text><text x="353.3" y="1492.5">60°E</text><text x="490.7" y="1492.5">120°E</text><text x="628" y="1492.5">180°</text><text x="765.3" y="1492.5">120°W</text><text x="902.7" y="1492.5">60°W</text><text x="1040" y="1492.5">0°W</text>
</g>

<!-- ===== Colorbar panel 1 ===== -->
<g>
<polygon fill="#FF2D00" points="1062,236.2 1062,208.3 1082.5,195 1103,208.3 1103,236.2"/>
<rect x="1062" y="236.2" width="41" height="26.9" fill="#FF6A00"/>
<rect x="1062" y="263.1" width="41" height="26.9" fill="#FE9A12"/>
<rect x="1062" y="290" width="41" height="26.9" fill="#FCC321"/>
<rect x="1062" y="316.9" width="41" height="26.9" fill="#D3C721"/>
<rect x="1062" y="343.8" width="41" height="26.9" fill="#95B816"/>
<rect x="1062" y="370.7" width="41" height="26.9" fill="#4BA614"/>
<rect x="1062" y="397.6" width="41" height="26.9" fill="#3A8A63"/>
<rect x="1062" y="424.5" width="41" height="26.9" fill="#0070A8"/>
<polygon fill="#0033FF" points="1062,451.4 1062,477.7 1082.5,491 1103,477.7 1103,451.4"/>
<polygon fill="none" stroke="#000" stroke-width="1.5" points="1062,208.3 1082.5,195 1103,208.3 1103,477.7 1082.5,491 1062,477.7"/>
<g font-size="19.8" text-anchor="end">
<text x="1165.5" y="243.2">160.0</text><text x="1165.5" y="270.1">140.0</text><text x="1165.5" y="297">120.0</text><text x="1165.5" y="323.9">100.0</text><text x="1165.5" y="350.8">80.0</text><text x="1165.5" y="377.7">60.0</text><text x="1165.5" y="404.6">40.0</text><text x="1165.5" y="431.5">20.0</text><text x="1165.5" y="458.4">0.0</text>
</g>
</g>

<!-- ===== Colorbar panel 2 ===== -->
<g>
<polygon fill="#FF2D00" points="1062,706.2 1062,678.3 1082.5,665 1103,678.3 1103,706.2"/>
<rect x="1062" y="706.2" width="41" height="26.9" fill="#FF6A00"/>
<rect x="1062" y="733.1" width="41" height="26.9" fill="#FE9A12"/>
<rect x="1062" y="760" width="41" height="26.9" fill="#FCC321"/>
<rect x="1062" y="786.9" width="41" height="26.9" fill="#D3C721"/>
<rect x="1062" y="813.8" width="41" height="26.9" fill="#95B816"/>
<rect x="1062" y="840.7" width="41" height="26.9" fill="#4BA614"/>
<rect x="1062" y="867.6" width="41" height="26.9" fill="#3A8A63"/>
<rect x="1062" y="894.5" width="41" height="26.9" fill="#0070A8"/>
<polygon fill="#0033FF" points="1062,921.4 1062,947.7 1082.5,961 1103,947.7 1103,921.4"/>
<polygon fill="none" stroke="#000" stroke-width="1.5" points="1062,678.3 1082.5,665 1103,678.3 1103,947.7 1082.5,961 1062,947.7"/>
<g font-size="19.8" text-anchor="end">
<text x="1165.5" y="713.2">160.0</text><text x="1165.5" y="740.1">140.0</text><text x="1165.5" y="767">120.0</text><text x="1165.5" y="793.9">100.0</text><text x="1165.5" y="820.8">80.0</text><text x="1165.5" y="847.7">60.0</text><text x="1165.5" y="874.6">40.0</text><text x="1165.5" y="901.5">20.0</text><text x="1165.5" y="928.4">0.0</text>
</g>
</g>

<!-- ===== Colorbar panel 3 ===== -->
<g>
<polygon fill="#FF2D00" points="1062,1170 1062,1148.3 1082.5,1135 1103,1148.3 1103,1170"/>
<rect x="1062" y="1170" width="41" height="20.7" fill="#FF4B2C"/>
<rect x="1062" y="1190.7" width="41" height="20.6" fill="#FF6E52"/>
<rect x="1062" y="1211.3" width="41" height="20.7" fill="#FF907A"/>
<rect x="1062" y="1232" width="41" height="20.7" fill="#FFB5A6"/>
<rect x="1062" y="1252.7" width="41" height="20.6" fill="#FFDCD6"/>
<rect x="1062" y="1273.3" width="41" height="20.7" fill="#FFFFFF"/>
<rect x="1062" y="1294" width="41" height="20.7" fill="#D5DCFB"/>
<rect x="1062" y="1314.7" width="41" height="20.6" fill="#AAB8F9"/>
<rect x="1062" y="1335.3" width="41" height="20.7" fill="#8199F6"/>
<rect x="1062" y="1356" width="41" height="20.7" fill="#5577F4"/>
<rect x="1062" y="1376.7" width="41" height="20.6" fill="#2A55F3"/>
<polygon fill="#0030FF" points="1062,1397.3 1062,1418 1082.5,1430.7 1103,1418 1103,1397.3"/>
<polygon fill="none" stroke="#000" stroke-width="1.5" points="1062,1148.3 1082.5,1135 1103,1148.3 1103,1418 1082.5,1430.7 1062,1418"/>
<g font-size="19.8" text-anchor="end">
<text x="1156" y="1177">50.0</text><text x="1156" y="1197.7">40.0</text><text x="1156" y="1218.3">30.0</text><text x="1156" y="1239">20.0</text><text x="1156" y="1259.7">10.0</text><text x="1156" y="1280.3">5.0</text><text x="1156" y="1301">-5.0</text><text x="1156" y="1321.7">-10.0</text><text x="1156" y="1342.3">-20.0</text><text x="1156" y="1363">-30.0</text><text x="1156" y="1383.7">-40.0</text><text x="1156" y="1404.3">-50.0</text>
</g>
</g>
</svg>
</body></html>
